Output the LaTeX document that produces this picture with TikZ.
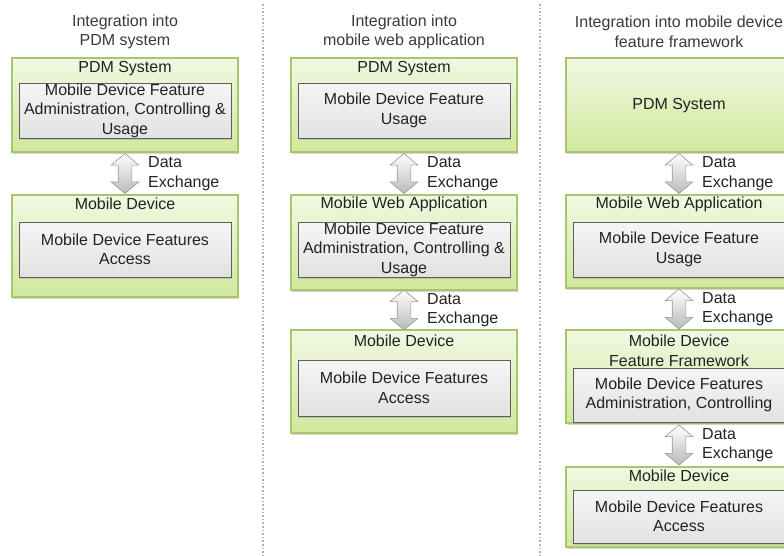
\documentclass[tikz,border=0pt]{standalone}
\usepackage{fontspec}
\setmainfont{Liberation Sans}
\usetikzlibrary{positioning,calc,shapes.arrows,shadows}

\definecolor{layerline}{HTML}{A8C66E}
\definecolor{layertop}{HTML}{F1F8E2}
\definecolor{layerbot}{HTML}{D0E89C}
\definecolor{cardline}{HTML}{5E5E5E}
\definecolor{cardtop}{HTML}{F5F5F5}
\definecolor{cardbot}{HTML}{E2E2E2}
\definecolor{inktext}{HTML}{222222}
\definecolor{ttltext}{HTML}{3A3A3A}

\tikzset{
  layer/.style={draw=layerline, line width=1.2pt, top color=layertop, bottom color=layerbot,
    minimum width=226, inner sep=0,
    drop shadow={shadow xshift=1pt, shadow yshift=-2pt, opacity=.35}},
  card/.style={draw=cardline, line width=.8pt, top color=cardtop, bottom color=cardbot,
    minimum width=212, minimum height=55, inner sep=0, align=center, text=inktext,
    drop shadow={shadow xshift=1pt, shadow yshift=-1.5pt, opacity=.3}},
  hdr/.style={inner sep=0, align=center, text=inktext},
  ttl/.style={inner sep=0, align=center, text=ttltext},
  xchg/.style={double arrow, shape border rotate=90, minimum height=40,
    double arrow head extend=7pt, double arrow tip angle=100, inner sep=6.5pt,
    draw=gray!80, line width=.6pt, top color=white, bottom color=gray!55},
  xlbl/.style={inner sep=0, align=left, anchor=west, text=inktext},
  sepline/.style={draw=gray!60, dotted, line width=1.6pt}
}

\begin{document}
\begin{tikzpicture}[x=1pt,y=-1pt,font=\fontsize{16}{19.5}\selectfont]
\useasboundingbox (0,0) rectangle (784,555);
\clip (0,0) rectangle (784,555);

% column separators
\foreach \x in {263,540} {
  \draw[sepline] (\x,4) -- (\x,555);
}

% titles
\node[ttl] (ttlA) at (125,32) {Integration into\\PDM system};
\node[ttl] (ttlB) at (404,32) {Integration into\\mobile web application};
\node[ttl] (ttlC) at (679,32) {Integration into mobile device\\feature framework};

% integration into PDM system
\node[layer, minimum height=94] (pdmA) at (125,105) {};
\node[hdr] (pdmAh) at (125,69) {PDM System};
\node[card] (admA) at (125,110.5) {Mobile Device Feature\\Administration, Controlling \&\\Usage};
\node[layer, minimum height=102] (devA) at (125,246) {};
\node[hdr] (devAh) at (125,204) {Mobile Device};
\node[card] (accA) at (125,249.5) {Mobile Device Features\\Access};
\node[xchg] (xA) at ($(pdmA.south)!.5!(devA.north)$) {};
\node[xlbl, right=23pt of xA.center] (xAl) {Data\\Exchange};

% integration into mobile web application
\node[layer, minimum height=94] (pdmB) at (404,105) {};
\node[hdr] (pdmBh) at (404,69) {PDM System};
\node[card] (useB) at (404,110.5) {Mobile Device Feature\\Usage};
\node[layer, minimum height=95] (webB) at (404,242.5) {};
\node[hdr] (webBh) at (404,204) {Mobile Web Application};
\node[card] (admB) at (404,249.5) {Mobile Device Feature\\Administration, Controlling \&\\Usage};
\node[layer, minimum height=103] (devB) at (404,381.5) {};
\node[hdr] (devBh) at (404,341) {Mobile Device};
\node[card, minimum height=56] (accB) at (404,388) {Mobile Device Features\\Access};
\node[xchg] (xB1) at ($(pdmB.south)!.5!(webB.north)$) {};
\node[xlbl, right=23pt of xB1.center] (xB1l) {Data\\Exchange};
\node[xchg] (xB2) at ($(webB.south)!.5!(devB.north)$) {};
\node[xlbl, right=23pt of xB2.center] (xB2l) {Data\\Exchange};

% integration into mobile device feature framework
\node[layer, minimum height=94] (pdmC) at (679,105) {};
\node[hdr] (pdmCh) at (679,106) {PDM System};
\node[layer, minimum height=93] (webC) at (679,241.5) {};
\node[hdr] (webCh) at (679,204) {Mobile Web Application};
\node[card] (useC) at (679,249.5) {Mobile Device Feature\\Usage};
\node[layer, minimum height=93] (fwC) at (679,376.5) {};
\node[hdr] (fwCh) at (679,351) {Mobile Device\\Feature Framework};
\node[card, minimum height=54] (admC) at (679,395) {Mobile Device Features\\Administration, Controlling};
\node[layer, minimum height=80] (devC) at (679,507) {};
\node[hdr] (devCh) at (679,476) {Mobile Device};
\node[card, minimum height=53] (accC) at (679,516.5) {Mobile Device Features\\Access};
\node[xchg] (xC1) at ($(pdmC.south)!.5!(webC.north)$) {};
\node[xlbl, right=23pt of xC1.center] (xC1l) {Data\\Exchange};
\node[xchg] (xC2) at ($(webC.south)!.5!(fwC.north)$) {};
\node[xlbl, right=23pt of xC2.center] (xC2l) {Data\\Exchange};
\node[xchg] (xC3) at ($(fwC.south)!.5!(devC.north)$) {};
\node[xlbl, right=23pt of xC3.center] (xC3l) {Data\\Exchange};
\end{tikzpicture}
\end{document}
